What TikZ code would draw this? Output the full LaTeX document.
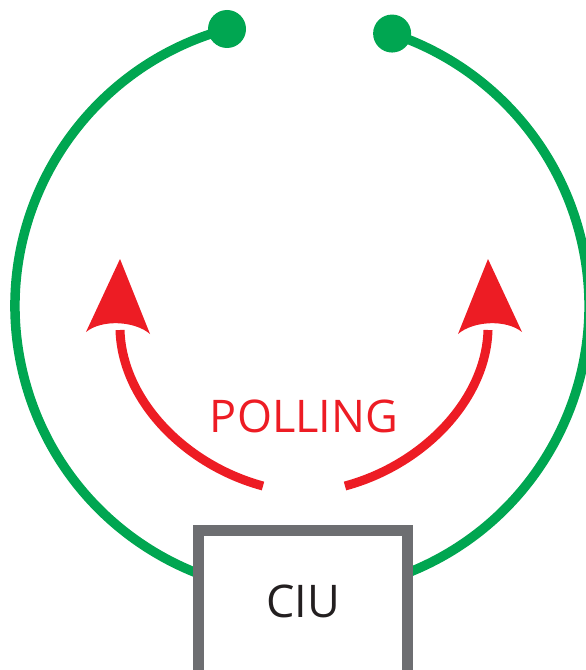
\documentclass[tikz,border=0pt]{standalone}
\usepackage{fontspec}
\setmainfont{Open Sans}
\definecolor{ringgreen}{HTML}{00A651}
\definecolor{pollred}{HTML}{ED1C24}
\definecolor{boxgray}{HTML}{6D6E71}
\definecolor{textblack}{HTML}{231F20}
\begin{document}
\begin{tikzpicture}[x=1bp,y=-1bp,
  ring/.style={draw=ringgreen,line width=9.5bp},
  enddot/.style={circle,fill=ringgreen,inner sep=0pt,minimum size=38bp},
  pollline/.style={draw=pollred,line width=9bp},
  pollhead/.style={fill=pollred,draw=none},
  ciubox/.style={draw=boxgray,fill=white,line width=10.5bp,minimum width=209bp,minimum height=149bp,inner sep=0pt},
  lbltext/.style={font=\fontsize{45bp}{54bp}\selectfont,inner sep=0pt}]
\useasboundingbox (0,0) rectangle (586,670);
% ring
\coordinate (ringc) at (302,306);
\coordinate (ldot) at (227,29);
\draw[ring] (ldot) arc[start angle=254.85, end angle=-71.7, radius=287] coordinate (rdot);
\node[enddot] (ldotn) at (ldot) {};
\node[enddot] (rdotn) at (rdot) {};
% box
\node[ciubox] (ciu) at (303,605) {};
\node[lbltext,text=textblack] (ciut) at (303,601.5) {CIU};
% polling label
\node[lbltext,text=pollred] (poll) at (304,416.5) {POLLING};
% left arrow
\coordinate (la) at (263,486);
\coordinate (lb) at (120,330);
\draw[pollline] (la) .. controls (185,465) and (122,400) .. (lb);
\coordinate (ltip) at (120,259);
\coordinate (lr) at (150,334);
\coordinate (ll) at (86,332);
\fill[pollhead] (ltip) -- (lr) .. controls (135,321) and (102,319) .. (ll) -- cycle;
% right arrow
\coordinate (ra) at (345,486);
\coordinate (rb) at (488,330);
\draw[pollline] (ra) .. controls (423,465) and (486,400) .. (rb);
\coordinate (rtip) at (488,259);
\coordinate (rl) at (458,334);
\coordinate (rr) at (522,332);
\fill[pollhead] (rtip) -- (rl) .. controls (473,321) and (506,319) .. (rr) -- cycle;
\end{tikzpicture}
\end{document}
